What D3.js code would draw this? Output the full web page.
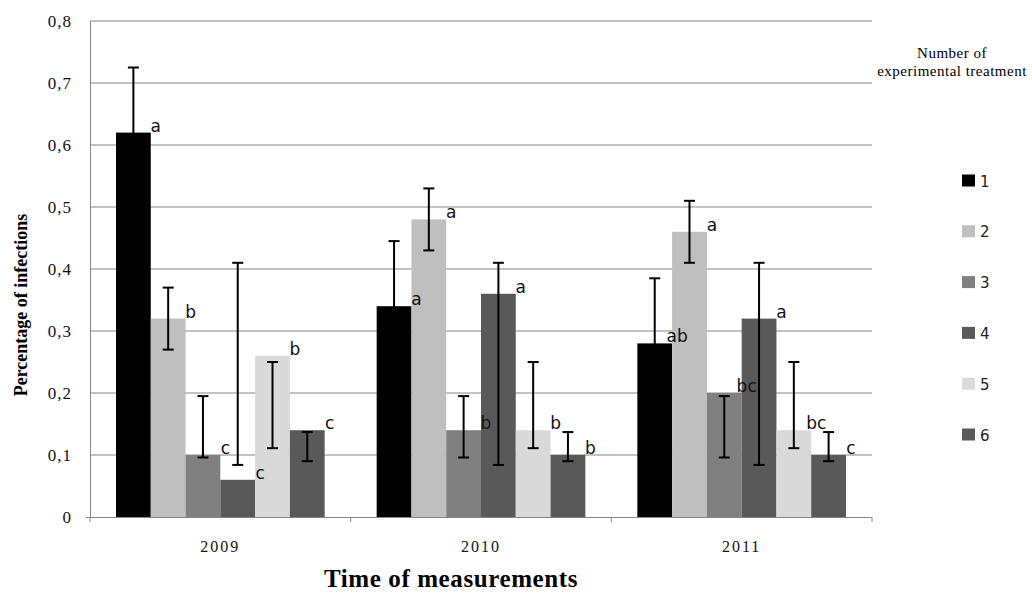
<!DOCTYPE html>
<html>
<head>
<meta charset="utf-8">
<script src="https://cdn.jsdelivr.net/npm/d3@7"></script>
<style>
  body { margin: 0; background: #fff; }
</style>
</head>
<body>
<div id="chart"></div>
<script>
// Svg defs
let w = 1032,
    h = 594;

// Data defs
let years = ["2009", "2010", "2011"];
let treatments = ["1", "2", "3", "4", "5", "6"];
let colors = ["#000000", "#bfbfbf", "#808080", "#595959", "#d9d9d9", "#595959"];

let infection2009 = [0.62, 0.32, 0.10, 0.06, 0.26, 0.14];
let infection2010 = [0.34, 0.48, 0.14, 0.36, 0.14, 0.10];
let infection2011 = [0.28, 0.46, 0.20, 0.32, 0.14, 0.10];

let errTop2009 = [0.725, 0.37, 0.195, 0.41, 0.25, 0.137];
let errTop2010 = [0.445, 0.53, 0.195, 0.41, 0.25, 0.137];
let errTop2011 = [0.385, 0.51, 0.195, 0.41, 0.25, 0.137];

let errBottom2009 = [0.515, 0.27, 0.096, 0.084, 0.111, 0.09];
let errBottom2010 = [0.235, 0.43, 0.096, 0.084, 0.111, 0.09];
let errBottom2011 = [0.175, 0.41, 0.096, 0.084, 0.111, 0.09];

let letters2009 = ["a", "b", "c", "c", "b", "c"];
let letters2010 = ["a", "a", "b", "a", "b", "b"];
let letters2011 = ["ab", "a", "bc", "a", "bc", "c"];

let yTicks = [0, 0.1, 0.2, 0.3, 0.4, 0.5, 0.6, 0.7, 0.8];

// Build rows from the arrays
let series = [
  [infection2009, errTop2009, errBottom2009, letters2009],
  [infection2010, errTop2010, errBottom2010, letters2010],
  [infection2011, errTop2011, errBottom2011, letters2011]
];
let bars = [];
years.forEach((yr, i) => {
  treatments.forEach((t, j) => {
    bars.push({
      year: yr, treat: t, idx: j,
      value: series[i][0][j],
      top: series[i][1][j],
      bottom: series[i][2][j],
      letter: series[i][3][j]
    });
  });
});

let margin = { left: 90, right: 160, top: 21, bottom: 77 };

let x = d3.scaleBand()
  .domain(years)
  .range([margin.left, w - margin.right]);

let xInner = d3.scaleBand()
  .domain(treatments)
  .range([26, x.bandwidth() - 26]);

let y = d3.scaleLinear()
  .domain([0, 0.8])
  .range([h - margin.bottom, margin.top]);

let comma = d3.formatLocale({ decimal: ",", thousands: ".", grouping: [3], currency: ["", ""] });
let fmt = (d) => d === 0 ? "0" : comma.format(".1f")(d);

// Create svg canvas
let svg = d3.select("#chart")
  .append("svg")
  .attr("width", w)
  .attr("height", h)
  .attr("viewBox", [0, 0, w, h]);

// Gridlines
svg.append("g")
  .selectAll("line")
  .data(yTicks.slice(1))
  .join("line")
  .attr("x1", margin.left)
  .attr("x2", w - margin.right)
  .attr("y1", (d) => y(d))
  .attr("y2", (d) => y(d))
  .attr("stroke", "#868686")
  .attr("stroke-width", 1);

// Y axis
let yAxis = svg.append("g")
  .attr("transform", `translate(${margin.left},0)`)
  .call(d3.axisLeft(y).tickValues(yTicks).tickFormat(fmt).tickSize(0).tickPadding(18));
yAxis.select(".domain").attr("stroke", "#868686");
yAxis.selectAll("text")
  .attr("font-family", "'Liberation Serif', serif")
  .attr("font-size", 17)
  .attr("letter-spacing", 1)
  .attr("fill", "#111");

// X axis
let xAxis = svg.append("g")
  .attr("transform", `translate(0,${y(0)})`)
  .call(d3.axisBottom(x).tickSize(0).tickPadding(24));
xAxis.select(".domain").attr("stroke", "#868686").attr("d", `M${margin.left - 4},0.5H${w - margin.right}`);
xAxis.selectAll("text")
  .attr("font-family", "'Liberation Serif', serif")
  .attr("font-size", 16)
  .attr("letter-spacing", 2)
  .attr("fill", "#111");

// Category tick marks at band edges
svg.append("g")
  .selectAll("line")
  .data(years.map((d) => x(d)).concat([x(years[years.length - 1]) + x.bandwidth()]))
  .join("line")
  .attr("x1", (d) => d)
  .attr("x2", (d) => d)
  .attr("y1", y(0))
  .attr("y2", y(0) + 5)
  .attr("stroke", "#868686");

// Bars
svg.append("g")
  .selectAll("rect")
  .data(bars)
  .join("rect")
  .attr("x", (d) => x(d.year) + xInner(d.treat))
  .attr("y", (d) => y(d.value))
  .attr("width", xInner.bandwidth())
  .attr("height", (d) => y(0) - y(d.value))
  .attr("fill", (d) => colors[d.idx]);

// Error bars
let eb = svg.append("g")
  .attr("stroke", "#000")
  .attr("stroke-width", 2);
let cx = (d) => x(d.year) + xInner(d.treat) + xInner.bandwidth() / 2;
eb.selectAll("line.v")
  .data(bars)
  .join("line")
  .attr("class", "v")
  .attr("x1", cx).attr("x2", cx)
  .attr("y1", (d) => y(d.top))
  .attr("y2", (d) => y(d.bottom));
eb.selectAll("line.t")
  .data(bars)
  .join("line")
  .attr("class", "t")
  .attr("x1", (d) => cx(d) - 5.5).attr("x2", (d) => cx(d) + 5.5)
  .attr("y1", (d) => y(d.top)).attr("y2", (d) => y(d.top));
eb.selectAll("line.b")
  .data(bars)
  .join("line")
  .attr("class", "b")
  .attr("x1", (d) => cx(d) - 5.5).attr("x2", (d) => cx(d) + 5.5)
  .attr("y1", (d) => y(d.bottom)).attr("y2", (d) => y(d.bottom));

// Significance letters
svg.append("g")
  .selectAll("text")
  .data(bars)
  .join("text")
  .attr("x", (d) => x(d.year) + xInner(d.treat) + xInner.bandwidth() + 5)
  .attr("y", (d) => y(d.value) - 1)
  .attr("text-anchor", "middle")
  .attr("font-family", "'DejaVu Sans', sans-serif")
  .attr("font-size", 17)
  .attr("fill", "#111")
  .text((d) => d.letter);

// Axis titles
svg.append("text")
  .attr("transform", "translate(27,305) rotate(-90)")
  .attr("text-anchor", "middle")
  .attr("font-family", "'Liberation Serif', serif")
  .attr("font-weight", "bold")
  .attr("font-size", 18)
  .text("Percentage of infections");

svg.append("text")
  .attr("x", 451)
  .attr("y", 587)
  .attr("text-anchor", "middle")
  .attr("font-family", "'Liberation Serif', serif")
  .attr("font-weight", "bold")
  .attr("font-size", 25)
  .attr("letter-spacing", 0.6)
  .text("Time of measurements");

// Legend
let legend = svg.append("g");
legend.append("text")
  .attr("x", 952)
  .attr("y", 58)
  .attr("text-anchor", "middle")
  .attr("font-family", "'Liberation Serif', serif")
  .attr("font-size", 15)
  .attr("letter-spacing", 0.5)
  .selectAll("tspan")
  .data(["Number of", "experimental treatment"])
  .join("tspan")
  .attr("x", 952)
  .attr("dy", (d, i) => i === 0 ? 0 : 18)
  .text((d) => d);

let ly = d3.scalePoint()
  .domain(treatments)
  .range([180.5, 434.5]);

let items = legend.selectAll("g.item")
  .data(treatments)
  .join("g")
  .attr("class", "item")
  .attr("transform", (d) => `translate(962,${ly(d)})`);
items.append("rect")
  .attr("x", 0).attr("y", -6)
  .attr("width", 13).attr("height", 12)
  .attr("fill", (d, i) => colors[i]);
items.append("text")
  .attr("x", 18).attr("y", 6)
  .attr("font-family", "'DejaVu Sans', sans-serif")
  .attr("font-size", 15)
  .attr("fill", "#222")
  .text((d) => d);
</script>
</body>
</html>
